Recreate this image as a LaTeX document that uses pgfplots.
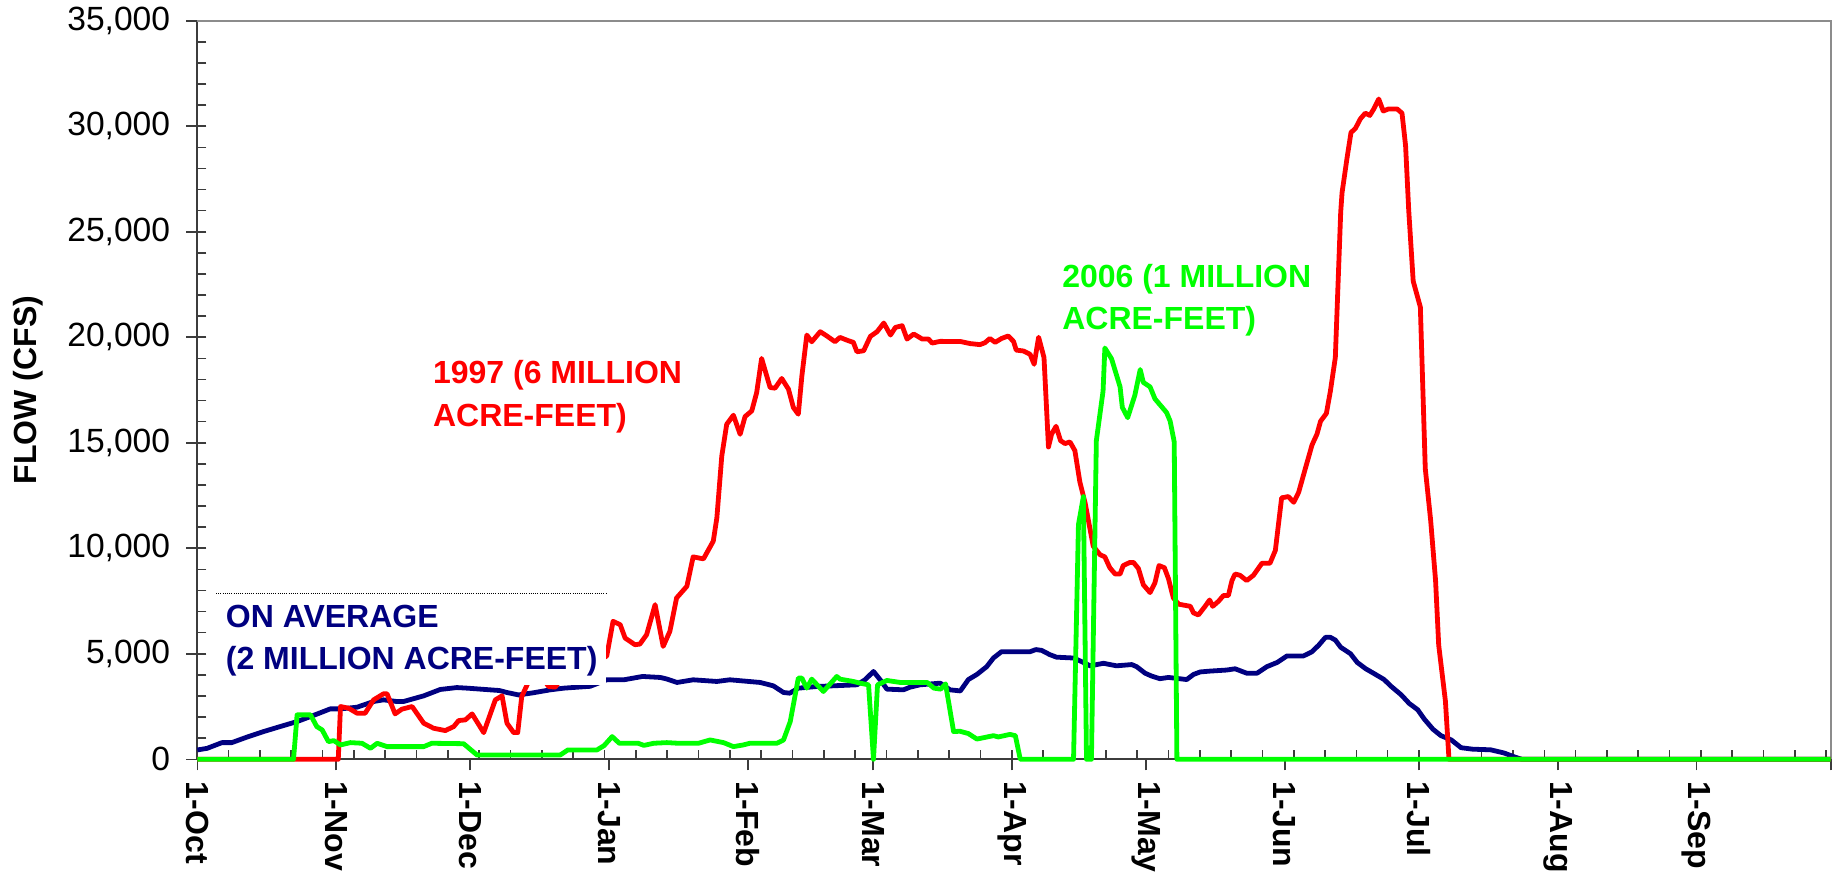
\documentclass[border=0pt]{standalone}
\usepackage{fontspec}
\setmainfont{Liberation Sans}
\usepackage{pgfplots}
\pgfplotsset{compat=1.18}
\definecolor{avgblue}{RGB}{0,0,128}
\definecolor{lime}{RGB}{0,255,0}
\definecolor{axgray}{RGB}{60,60,60}
\definecolor{framegray}{RGB}{140,140,140}
\newcommand{\labfont}{\fontsize{16}{19}\selectfont\bfseries}
\begin{document}
\begin{tikzpicture}
\begin{axis}[
  scale only axis, width=816.7pt, height=369.3pt,
  xmin=0, xmax=365, ymin=0, ymax=35000,
  clip=false,
  scaled y ticks=false,
  axis x line*=bottom, axis y line*=left,
  axis line style={-, draw=axgray, line width=1pt},
  xtick={0,31,61,92,123,151,182,212,243,273,304,335,365},
  xticklabels={1-Oct,1-Nov,1-Dec,1-Jan,1-Feb,1-Mar,1-Apr,1-May,1-Jun,1-Jul,1-Aug,1-Sep,{}},
  minor xtick={7,14,...,364},
  ytick={0,5000,...,35000},
  minor ytick={1000,2000,...,34000},
  tick align=outside,
  major tick length=5.5pt,
  minor tick length=-4.5pt,
  tick style={draw=axgray, line width=0.8pt},
  xticklabel style={rotate=-90, anchor=west, inner sep=0pt, xshift=5.6pt, font=\labfont},
  yticklabel style={anchor=east, inner sep=0pt, xshift=-7.9pt, font=\fontsize{16.8}{20}\selectfont},
  /pgf/number format/.cd, fixed, 1000 sep={,}, assume math mode=true,
]
\draw[framegray, line width=1pt] (rel axis cs:0,1) -- (rel axis cs:1,1) -- (rel axis cs:1,0);

\addplot[avgblue, line width=2.4pt, line join=round] table {
0 443
2.2 520
5.5 790
7.7 790
11 1045
14.8 1314
18.5 1551
22.3 1789
25.3 2026
28.2 2264
29.7 2390
32 2390
35.7 2469
39.4 2739
41.6 2818
44.6 2739
46.1 2740
50.6 3008
54.3 3310
58 3400
60.3 3372
67.5 3260
69.2 3166
71.8 3050
75 3150
78.9 3293
81.9 3372
87.8 3460
91.5 3768
95.3 3768
99.5 3926
103.5 3878
105 3800
107.2 3641
110.8 3768
116.1 3689
119 3768
125.8 3641
128.7 3483
131 3166
132.4 3134
134.3 3372
138.4 3450
142.1 3483
147.4 3530
149.2 3768
151.1 4163
152.6 3768
154.1 3325
157.8 3293
159.3 3420
161.5 3530
166 3609
168.2 3293
170.5 3240
172.3 3780
174.2 4020
176.4 4390
177.9 4800
179.7 5100
186.1 5100
187.4 5200
188.7 5160
190.5 4960
192 4840
195.8 4800
197.6 4630
199.5 4430
202.5 4550
205.4 4430
208.8 4490
209.9 4390
211.8 4080
213.3 3940
215.1 3820
217 3880
221.1 3780
222.6 4020
224.1 4140
226.3 4180
230 4230
231.9 4290
234.5 4080
236.8 4080
239 4390
241.3 4590
243.5 4900
247.2 4900
249.1 5100
250.6 5410
252.1 5780
253.2 5780
254.3 5650
255.5 5310
257.7 5000
259.2 4590
261.1 4290
263.3 4020
265.2 3780
266.7 3470
269 3060
270.8 2650
272.7 2350
274.2 1900
276.1 1430
277.9 1120
280.2 920
282.4 550
285 480
289 450
292 300
294.5 100
296 0
365 0
};

\addplot[red, line width=2.4pt, line join=round] table {
0 0
31.5 0
32 2501
33.8 2422
35.7 2185
37.5 2185
39.4 2818
41.6 3103
42.4 3103
44.2 2153
45.7 2375
48 2501
50.6 1710
52.8 1472
55.4 1361
57.3 1551
58.4 1836
59.9 1868
61.4 2153
64 1266
66.6 2818
68.1 3008
69.2 1710
70.7 1266
71.6 1266
72.5 2976
73.7 3530
75.5 4300
77 3900
78.5 3450
80 3420
81.5 3900
84 4300
87 4500
90 4700
91.5 4900
92.9 6538
94.5 6380
95.6 5746
97.8 5430
98.9 5461
100.4 5905
102.3 7329
104.1 5350
105.6 6063
107.1 7646
109.4 8200
110.8 9593
113.1 9498
115.3 10337
116.1 11445
117.2 14373
118.3 15877
119.8 16305
121.3 15402
122.4 16242
123.9 16511
125 17381
126.1 18996
128 17619
129.1 17587
130.6 18046
132.1 17540
133.2 16669
134.3 16352
135.1 18172
136.2 20104
137.3 19788
139.2 20263
140.6 20072
142.5 19788
143.6 19993
145.5 19835
146.6 19756
147.4 19313
148.9 19360
150.4 20041
151.9 20263
153.4 20674
154.9 20104
156 20468
157.5 20547
158.6 19914
160.1 20152
162 19914
163.4 19914
164.2 19725
166 19804
170.5 19800
172.7 19700
174.9 19650
176 19740
177.1 19940
178.3 19760
179.7 19940
181.2 20060
182.4 19800
183 19390
184.6 19350
186.1 19190
187 18720
188 20000
189.2 19040
190.2 14800
190.9 15410
191.9 15780
192.9 15100
193.9 14960
195 15040
196.1 14630
197.2 13160
198.4 12140
200.2 10100
201.7 9700
202.8 9590
203.9 9080
205.1 8780
206.2 8780
206.9 9180
208.4 9330
209.2 9330
210.3 9040
211.4 8270
212.9 7900
214 8370
214.9 9180
216.1 9080
217 8570
218.1 7650
219.3 7350
221.9 7250
222.6 6940
223.7 6840
225.2 7250
226.2 7550
226.9 7250
228.2 7490
229.3 7760
230.4 7760
231.2 8470
231.9 8780
233 8720
234.5 8470
236 8720
237.9 9290
239.7 9290
240.9 9900
242.3 12390
243.8 12450
245 12180
246.1 12650
247.6 13780
249.1 14900
250.2 15410
251 16020
252.3 16390
253.2 17450
254.3 19040
255.5 25920
255.8 26840
256.9 28470
257.8 29700
258.8 29900
259.9 30350
261 30620
262 30510
262.9 30820
264 31290
265 30720
266.2 30820
268.1 30820
269.2 30620
270 29080
270.7 26020
271.7 22660
273.3 21430
274.4 13780
275.6 11330
276.7 8470
277.4 5410
278.9 2760
279.7 0
365 0
};

\addplot[lime, line width=2.4pt, line join=round] table {
0 0
21.5 0
22.3 2105
25.3 2105
26.7 1551
27.9 1393
29.3 839
30.5 886
32 681
34.2 791
36.8 760
38.7 522
40.2 760
42.4 601
50.6 601
52.4 760
59.5 740
62.5 206
81.1 206
82.8 443
89.3 443
90.9 650
92.7 1076
94.3 760
98.5 760
99.8 660
102 760
104.9 791
107.5 760
112 760
114.6 918
117.6 791
119.8 601
122 681
123.5 760
129.5 760
131 918
132.5 1789
134.3 3847
135.1 3847
136.2 3372
137.3 3800
139.9 3213
142.9 3926
143.6 3800
146.6 3689
148.1 3609
150 3530
151.1 0
152 3530
154.1 3736
157.1 3641
163.1 3641
164.6 3372
166.1 3325
167.2 3577
169 1314
170.4 1330
172.3 1220
174.2 960
175.6 1020
177.9 1120
179 1060
181.6 1180
182.8 1120
183.9 0
195.8 0
196.9 11120
198 12450
198.7 0
199.8 0
200.9 15100
202.4 17450
202.8 19490
204.3 18980
206.2 17650
206.7 16680
207.9 16190
209.5 17250
210.7 18470
211.4 17860
212.9 17650
214 17080
216.6 16430
217.4 16020
218.3 15040
218.9 0
365 0
};

\fill[white] (axis cs:4.2,3500) rectangle (axis cs:91.4,7850);
\draw[black, line width=0.5pt, dash pattern=on 0.5pt off 0.6pt] (axis cs:4.2,7850) -- (axis cs:91.4,7850);

\node[anchor=base west, inner sep=0pt, text=avgblue, font=\labfont] at (axis cs:6.3,6248) {ON AVERAGE};
\node[anchor=base west, inner sep=0pt, text=avgblue, font=\labfont] at (axis cs:6.3,4273) {(2 MILLION ACRE-FEET)};
\node[anchor=base west, inner sep=0pt, text=red, font=\labfont] at (axis cs:52.6,17820) {1997 (6 MILLION};
\node[anchor=base west, inner sep=0pt, text=red, font=\labfont] at (axis cs:52.6,15790) {ACRE-FEET)};
\node[anchor=base west, inner sep=0pt, text=lime, font=\labfont] at (axis cs:193.2,22349) {2006 (1 MILLION};
\node[anchor=base west, inner sep=0pt, text=lime, font=\labfont] at (axis cs:193.2,20345) {ACRE-FEET)};
\end{axis}
\node[rotate=90, anchor=base, inner sep=0pt, font=\labfont] at (-80.3pt,184.65pt) {FLOW (CFS)};
\pgfresetboundingbox
\path[use as bounding box] (-98.65pt,-59.85pt) rectangle (820.85pt,379.65pt);
\end{tikzpicture}
\end{document}
